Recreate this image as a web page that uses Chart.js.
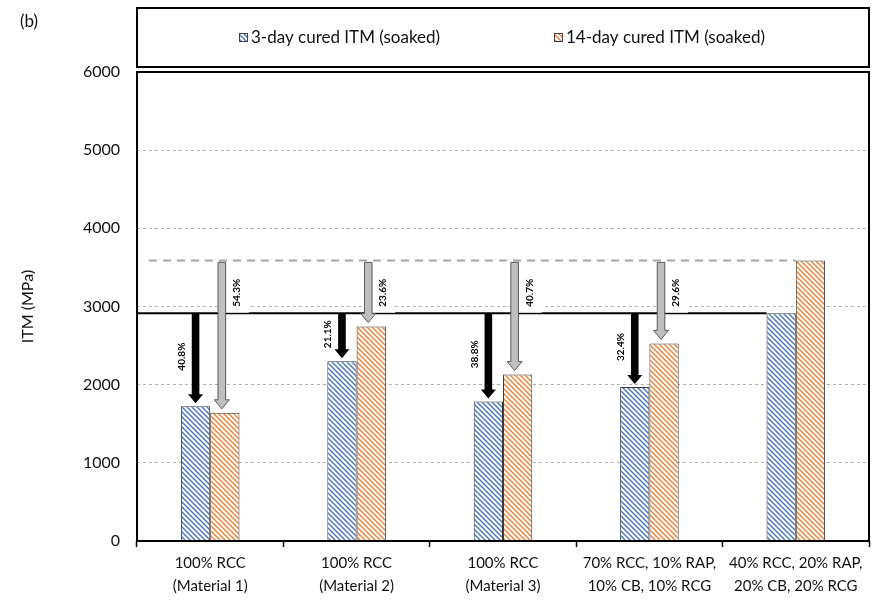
<!DOCTYPE html>
<html>
<head>
<meta charset="utf-8">
<script src="https://cdn.jsdelivr.net/npm/chart.js@4.4.1/dist/chart.umd.min.js"></script>
<style>
    body { margin: 0; background: #fff; }
    #wrap { width: 882px; height: 600px; }
</style>
</head>
<body>
<div id="wrap"><canvas id="itmchart" width="882" height="600"></canvas></div>
<script>
var mixes = [
    ['100% RCC', '(Material 1)'],
    ['100% RCC', '(Material 2)'],
    ['100% RCC', '(Material 3)'],
    ['70% RCC, 10% RAP,', '10% CB, 10% RCG'],
    ['40% RCC, 20% RAP,', '20% CB, 20% RCG']
];
var itm3day = [1725, 2300, 1785, 1970, 2915];
var itm14day = [1640, 2743, 2130, 2528, 3590];
// drop from the blend (last group), % labels on the arrows
var drop3day = ['40.8%', '21.1%', '38.8%', '32.4%'];
var drop14day = ['54.3%', '23.6%', '40.7%', '29.6%'];
var yticks = [0, 1000, 2000, 3000, 4000, 5000, 6000];

var font = 'Lato, "Open Sans", sans-serif';
var ctx = document.getElementById('itmchart');
var c2d = ctx.getContext('2d');

function hatch(color) {
    var c = document.createElement('canvas');
    c.width = 5;
    c.height = 5;
    var g = c.getContext('2d');
    g.fillStyle = '#fff';
    g.fillRect(0, 0, 5, 5);
    g.strokeStyle = color;
    g.lineWidth = 1.4;
    g.beginPath();
    g.moveTo(-1, -1); g.lineTo(6, 6);
    g.moveTo(-3.5, 1.5); g.lineTo(1.5, 6.5);
    g.moveTo(3.5, -1.5); g.lineTo(6.5, 1.5);
    g.stroke();
    return c2d.createPattern(c, 'repeat');
}

var blueHatch = hatch('#4472c4');
var orangeHatch = hatch('#ed7d31');

function arrow(g, x, y1, y2, fill, stroke) {
    var sw = 3.8, hw = 7.5, hh = 9;
    g.beginPath();
    g.moveTo(x - sw, y1);
    g.lineTo(x + sw, y1);
    g.lineTo(x + sw, y2 - hh);
    g.lineTo(x + hw, y2 - hh);
    g.lineTo(x, y2);
    g.lineTo(x - hw, y2 - hh);
    g.lineTo(x - sw, y2 - hh);
    g.closePath();
    g.fillStyle = fill;
    g.fill();
    if (stroke) {
        g.strokeStyle = stroke;
        g.lineWidth = 1;
        g.stroke();
    }
}

function vlabel(g, txt, x, y) {
    g.save();
    g.translate(x, y);
    g.rotate(-Math.PI / 2);
    g.fillStyle = '#000';
    g.font = 'bold 10px ' + font;
    g.textAlign = 'center';
    g.textBaseline = 'middle';
    g.fillText(txt, 0, 0);
    g.restore();
}

var overlay = {
    id: 'overlay',
    beforeDatasetsDraw(chart) {
        var g = chart.ctx;
        var a = chart.chartArea;
        var ys = chart.scales.y;
        var b3 = chart.getDatasetMeta(0).data;
        var b14 = chart.getDatasetMeta(1).data;
        var last = itm3day.length - 1;
        g.save();
        // dashed line at the 14-day blend value
        g.strokeStyle = '#a6a6a6';
        g.lineWidth = 2;
        g.setLineDash([8, 6]);
        g.beginPath();
        g.moveTo(a.left + 12, ys.getPixelForValue(itm14day[last]));
        g.lineTo(b14[last].x - b14[last].width / 2, ys.getPixelForValue(itm14day[last]));
        g.stroke();
        // solid line at the 3-day blend value
        g.setLineDash([]);
        g.strokeStyle = '#000';
        g.beginPath();
        g.moveTo(a.left, ys.getPixelForValue(itm3day[last]));
        g.lineTo(b3[last].x - b3[last].width / 2, ys.getPixelForValue(itm3day[last]));
        g.stroke();
        g.restore();
    },
    afterDatasetsDraw(chart) {
        var g = chart.ctx;
        var ys = chart.scales.y;
        var b3 = chart.getDatasetMeta(0).data;
        var b14 = chart.getDatasetMeta(1).data;
        var last = itm3day.length - 1;
        var top3 = ys.getPixelForValue(itm3day[last]);
        var top14 = ys.getPixelForValue(itm14day[last]);
        g.save();
        for (var i = 0; i < drop3day.length; i++) {
            var xb = b3[i].x;
            var xg = b14[i].x - 3;
            var yb = ys.getPixelForValue(itm3day[i]);
            var yg = ys.getPixelForValue(itm14day[i]);
            var lyb = (top3 + yb) / 2 - 3;
            var lyg = (top14 + top3) / 2 + 6;
            // white label backs cut the reference line
            g.fillStyle = '#fff';
            g.fillRect(xg + 15 - 12, lyg - 20, 24, 40);
            arrow(g, xb, top3, yb - 3, '#000');
            arrow(g, xg, top14 + 2, yg - 4, '#bfbfbf', '#595959');
            vlabel(g, drop3day[i], xb - 14, lyb);
            vlabel(g, drop14day[i], xg + 15, lyg);
        }
        g.restore();
    },
    afterDraw(chart) {
        var g = chart.ctx;
        var a = chart.chartArea;
        g.save();
        g.strokeStyle = '#000';
        g.lineWidth = 2;
        g.strokeRect(a.left, a.top, a.right - a.left, a.bottom - a.top);
        // legend box
        g.strokeRect(a.left, 8, a.right - a.left, 59);
        g.font = '17px ' + font;
        g.textBaseline = 'middle';
        var items = [[chart.data.datasets[0], 239], [chart.data.datasets[1], 554]];
        items.forEach(function (it) {
            g.fillStyle = it[0].backgroundColor;
            g.fillRect(it[1], 33, 9, 9);
            g.strokeStyle = '#404040';
            g.lineWidth = 1;
            g.strokeRect(it[1] + 0.5, 33.5, 8, 8);
            g.fillStyle = '#111';
            g.fillText(it[0].label, it[1] + 12, 38);
        });
        g.font = '17px ' + font;
        g.fillText('(b)', 20, 22);
        g.restore();
    }
};

var itmchart = new Chart(ctx, {
    type: 'bar',
    data: {
        labels: mixes,
        datasets: [{
            label: '3-day cured ITM (soaked)',
            data: itm3day,
            backgroundColor: blueHatch,
            borderColor: '#3a3a3a',
            borderWidth: 1,
            categoryPercentage: 0.4,
            barPercentage: 1.0
        }, {
            label: '14-day cured ITM (soaked)',
            data: itm14day,
            backgroundColor: orangeHatch,
            borderColor: '#3a3a3a',
            borderWidth: 1,
            categoryPercentage: 0.4,
            barPercentage: 1.0
        }]
    },
    options: {
        responsive: false,
        animation: false,
        layout: {
            padding: { left: 12, right: 13, top: 72, bottom: 0 }
        },
        plugins: {
            legend: { display: false },
            tooltip: { enabled: false }
        },
        scales: {
            x: {
                grid: {
                    display: true,
                    offset: true,
                    drawOnChartArea: false,
                    drawTicks: true,
                    tickLength: 6,
                    tickColor: '#000',
                    tickWidth: 1.5
                },
                border: { display: false },
                ticks: {
                    color: '#111',
                    padding: 5,
                    maxRotation: 0,
                    autoSkip: false,
                    font: { family: font, size: 15, lineHeight: 1.5 }
                },
                afterFit: function (s) { s.height = 59; }
            },
            y: {
                min: 0,
                max: 6000,
                afterBuildTicks: function (s) {
                    s.ticks = yticks.map(function (v) { return { value: v }; });
                },
                grid: {
                    color: '#b0b0b0',
                    lineWidth: 1,
                    drawTicks: false
                },
                border: { display: false, dash: [3, 3] },
                ticks: {
                    color: '#111',
                    padding: 17,
                    font: { family: font, size: 16 },
                    callback: function (v) { return String(v); }
                },
                title: {
                    display: true,
                    text: 'ITM (MPa)',
                    color: '#111',
                    padding: { top: 6, bottom: 0 },
                    font: { family: font, size: 16 }
                },
                afterFit: function (s) { s.width = 125; }
            }
        }
    },
    plugins: [overlay]
});
</script>
</body>
</html>
